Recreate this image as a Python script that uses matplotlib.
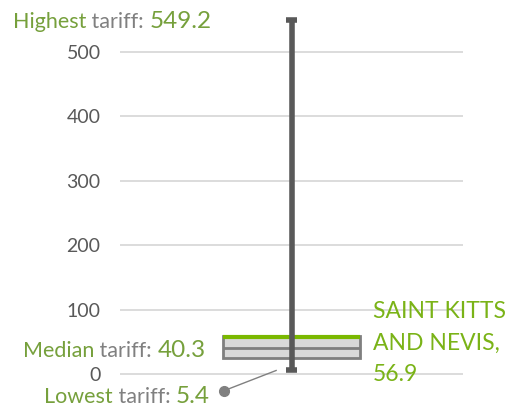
import matplotlib
matplotlib.use("Agg")
import matplotlib.pyplot as plt
from matplotlib.transforms import IdentityTransform

# box plot statistics (tariff, %)
lowest = 5.4
q1 = 25.0
median = 40.3
q3 = 58.5
highest = 549.2
country = "SAINT KITTS\nAND NEVIS,"
country_value = 56.9
yticks = [0, 100, 200, 300, 400, 500]

green = "#76a03c"
bright = "#7ab317"
grey = "#808080"

plt.rcParams["font.family"] = ["Lato", "DejaVu Sans"]

fig = plt.figure(figsize=(5.09, 4.07), dpi=100)
ax = fig.add_axes([0.2358, 0.0337, 0.674, 0.9333])
ax.set_xlim(0, 1)
ax.set_ylim(-30, 560)

for s in ax.spines.values():
    s.set_visible(False)
ax.set_xticks([])
ax.set_yticks(yticks)
ax.tick_params(axis="y", length=0, pad=14, labelsize=14, labelcolor="#595959")
ax.yaxis.grid(True, color="#d9d9d9", linewidth=1.3)
ax.set_axisbelow(True)

# box
ax.bar(0.5, q3 - q1, bottom=q1, width=0.4, color="#d9d9d9",
       edgecolor="#7f7f7f", linewidth=2, zorder=2)
ax.hlines(median, 0.3, 0.7, color="#7f7f7f", linewidth=2, zorder=3)
ax.hlines(country_value, 0.3, 0.7, color="#7ab800", linewidth=3, zorder=3)

# whisker
ax.vlines(0.5, lowest, highest, color="#595959", linewidth=4, zorder=4)
ax.hlines([lowest, highest], 0.483, 0.517, color="#595959", linewidth=4, zorder=4)

# callout for lowest value
ax.plot([0.455, 0.303], [lowest, -26], color=grey, linewidth=1, zorder=5, clip_on=False)
ax.plot([0.303], [-26], "o", color=grey, markersize=7, zorder=5, clip_on=False)

renderer = fig.canvas.get_renderer()
H = 407


def label(x, y, parts):
    for txt, col, size in parts:
        t = fig.text(x, H - y, txt, color=col, fontsize=size, va="baseline",
                     ha="left", transform=IdentityTransform())
        x = t.get_window_extent(renderer).x1


label(13, 28, [("Highest", green, 15.5), (" tariff: ", grey, 15.5), ("549.2", green, 17.5)])
label(23, 357, [("Median", green, 15.5), (" tariff: ", grey, 15.5), ("40.3", green, 17.5)])
label(44, 403, [("Lowest", green, 15.5), (" tariff: ", grey, 15.5), ("5.4", green, 17.5)])

fig.text(373, H - 381, country + "\n" + f"{country_value}", color=bright,
         fontsize=16.5, va="baseline", ha="left", linespacing=1.62,
         transform=IdentityTransform())

fig.savefig("out.png", dpi=100)
